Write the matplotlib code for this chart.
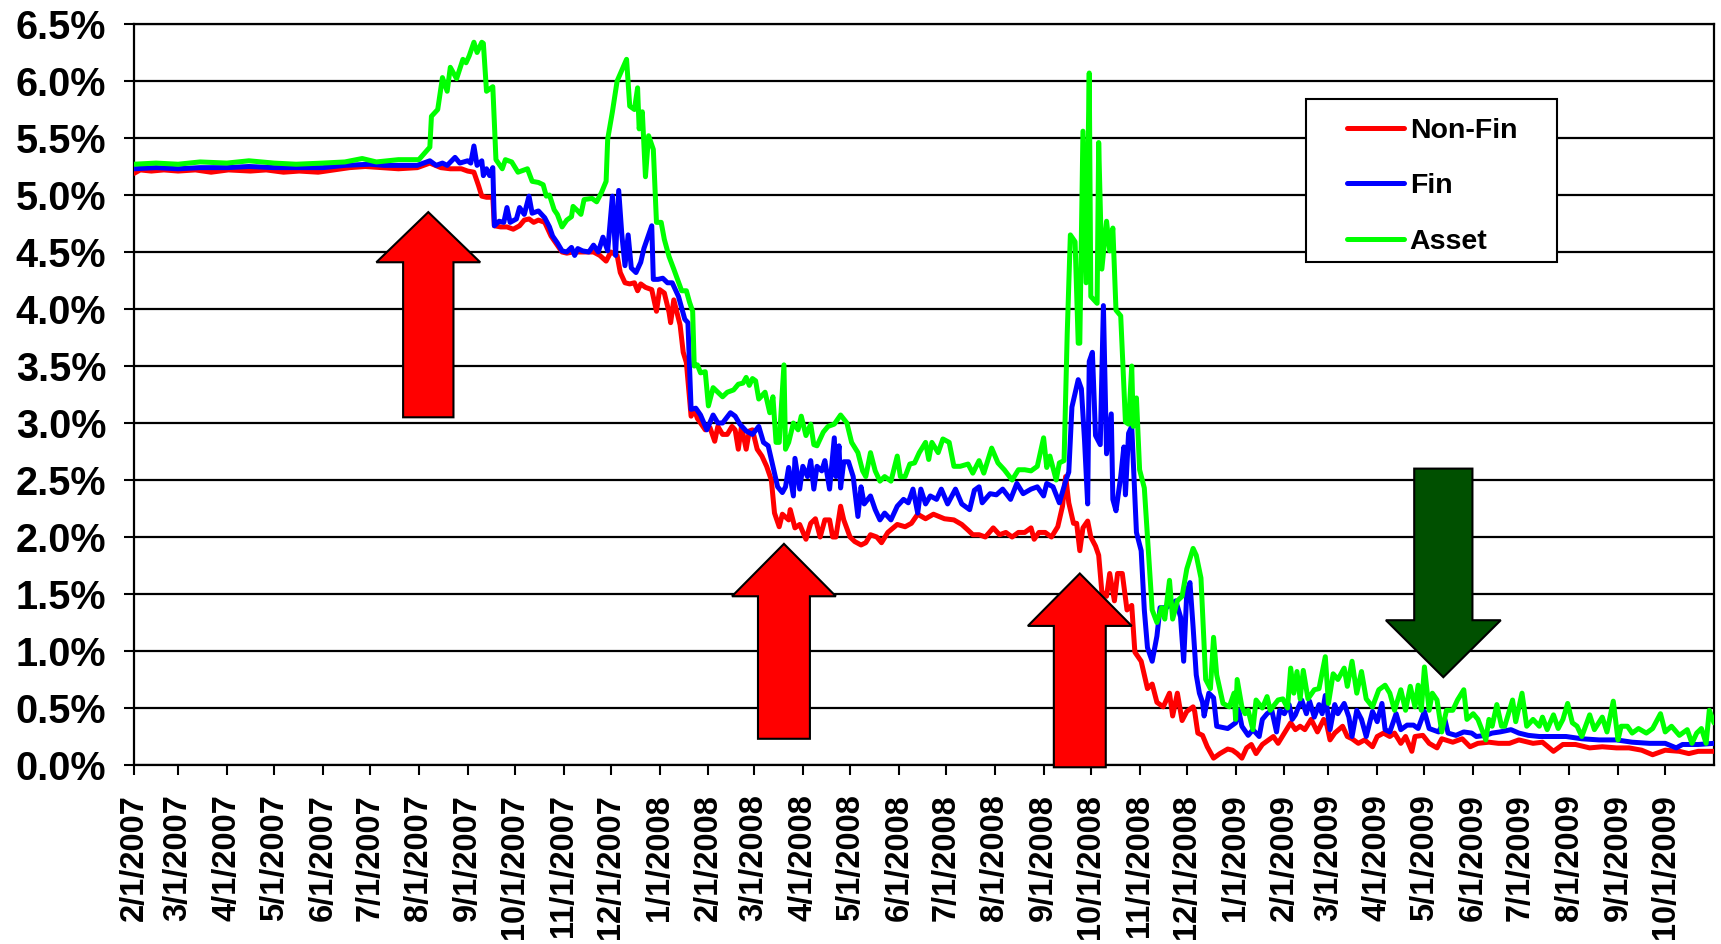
import matplotlib
matplotlib.use('Agg')
import matplotlib.pyplot as plt
import matplotlib.dates as mdates
from matplotlib.patches import Polygon, Rectangle
from matplotlib.ticker import FuncFormatter
import numpy as np
import pandas as pd

plt.rcParams['font.family'] = ['Liberation Sans', 'DejaVu Sans']
plt.rcParams['font.weight'] = 'bold'

W, H = 1721, 944

series_names = ['Non-Fin', 'Fin', 'Asset']
series_colors = ['#FF0000', '#0000FF', '#00FF00']

month_labels = ['2/1/2007', '3/1/2007', '4/1/2007', '5/1/2007', '6/1/2007', '7/1/2007',
                '8/1/2007', '9/1/2007', '10/1/2007', '11/1/2007', '12/1/2007', '1/1/2008',
                '2/1/2008', '3/1/2008', '4/1/2008', '5/1/2008', '6/1/2008', '7/1/2008',
                '8/1/2008', '9/1/2008', '10/1/2008', '11/1/2008', '12/1/2008', '1/1/2009',
                '2/1/2009', '3/1/2009', '4/1/2009', '5/1/2009', '6/1/2009', '7/1/2009',
                '8/1/2009', '9/1/2009', '10/1/2009']

# Non-Fin (percent)
nonfin_dates = [
    '2007-02-01', '2007-02-05', '2007-02-12', '2007-02-20', '2007-03-01', '2007-03-12', '2007-03-22',
    '2007-04-02', '2007-04-16', '2007-04-26', '2007-05-07', '2007-05-17', '2007-05-29', '2007-06-08',
    '2007-06-18', '2007-06-28', '2007-07-09', '2007-07-19', '2007-07-31', '2007-08-08', '2007-08-15',
    '2007-08-21', '2007-08-28', '2007-09-01', '2007-09-05', '2007-09-08', '2007-09-10', '2007-09-13',
    '2007-09-17', '2007-09-18', '2007-09-22', '2007-09-26', '2007-09-30', '2007-10-04', '2007-10-07',
    '2007-10-10', '2007-10-13', '2007-10-16', '2007-10-20', '2007-10-24', '2007-10-28', '2007-10-31',
    '2007-11-03', '2007-11-07', '2007-11-13', '2007-11-20', '2007-11-24', '2007-11-28', '2007-12-01',
    '2007-12-05', '2007-12-07', '2007-12-10', '2007-12-13', '2007-12-16', '2007-12-18', '2007-12-20',
    '2007-12-23', '2007-12-27', '2007-12-30', '2008-01-01', '2008-01-04', '2008-01-07', '2008-01-08',
    '2008-01-10', '2008-01-14', '2008-01-16', '2008-01-18', '2008-01-21', '2008-01-23', '2008-01-25',
    '2008-01-30', '2008-02-02', '2008-02-05', '2008-02-07', '2008-02-10', '2008-02-13', '2008-02-16',
    '2008-02-18', '2008-02-20', '2008-02-22', '2008-02-25', '2008-02-27', '2008-02-29', '2008-03-03',
    '2008-03-06', '2008-03-09', '2008-03-12', '2008-03-14', '2008-03-17', '2008-03-19', '2008-03-23',
    '2008-03-24', '2008-03-27', '2008-03-30', '2008-04-03', '2008-04-06', '2008-04-09', '2008-04-12',
    '2008-04-15', '2008-04-18', '2008-04-20', '2008-04-22', '2008-04-25', '2008-04-27', '2008-05-01',
    '2008-05-04', '2008-05-08', '2008-05-11', '2008-05-14', '2008-05-18', '2008-05-21', '2008-05-25',
    '2008-05-31', '2008-06-05', '2008-06-09', '2008-06-13', '2008-06-18', '2008-06-23', '2008-06-30',
    '2008-07-06', '2008-07-11', '2008-07-15', '2008-07-18', '2008-07-22', '2008-07-26', '2008-07-31',
    '2008-08-04', '2008-08-08', '2008-08-12', '2008-08-16', '2008-08-20', '2008-08-24', '2008-08-26',
    '2008-08-29', '2008-09-02', '2008-09-06', '2008-09-10', '2008-09-13', '2008-09-15', '2008-09-17',
    '2008-09-20', '2008-09-22', '2008-09-24', '2008-09-26', '2008-09-29', '2008-10-01', '2008-10-04',
    '2008-10-06', '2008-10-08', '2008-10-11', '2008-10-13', '2008-10-16', '2008-10-18', '2008-10-21',
    '2008-10-24', '2008-10-27', '2008-10-29', '2008-11-02', '2008-11-06', '2008-11-09', '2008-11-12',
    '2008-11-16', '2008-11-20', '2008-11-22', '2008-11-25', '2008-11-28', '2008-12-01', '2008-12-05',
    '2008-12-06', '2008-12-08', '2008-12-11', '2008-12-14', '2008-12-18', '2008-12-22', '2008-12-27',
    '2008-12-30', '2009-01-02', '2009-01-05', '2009-01-08', '2009-01-11', '2009-01-14', '2009-01-18',
    '2009-01-22', '2009-01-25', '2009-01-28', '2009-02-01', '2009-02-05', '2009-02-08', '2009-02-11',
    '2009-02-14', '2009-02-18', '2009-02-22', '2009-02-26', '2009-02-28', '2009-03-02', '2009-03-05',
    '2009-03-10', '2009-03-13', '2009-03-16', '2009-03-20', '2009-03-24', '2009-03-29', '2009-04-01',
    '2009-04-05', '2009-04-09', '2009-04-12', '2009-04-16', '2009-04-19', '2009-04-23', '2009-04-25',
    '2009-04-30', '2009-05-04', '2009-05-09', '2009-05-12', '2009-05-19', '2009-05-25', '2009-05-30',
    '2009-06-04', '2009-06-11', '2009-06-17', '2009-06-24', '2009-06-30', '2009-07-09', '2009-07-15',
    '2009-07-22', '2009-07-28', '2009-08-05', '2009-08-14', '2009-08-22', '2009-08-31', '2009-09-08',
    '2009-09-16', '2009-09-23', '2009-10-01', '2009-10-10', '2009-10-16', '2009-10-22', '2009-11-01']
nonfin_vals = [
    5.19, 5.22, 5.21, 5.22, 5.21, 5.22, 5.20,
    5.22, 5.21, 5.22, 5.20, 5.21, 5.20, 5.22,
    5.24, 5.25, 5.24, 5.23, 5.24, 5.28, 5.24,
    5.23, 5.23, 5.21, 5.20, 5.08, 4.99, 4.98,
    4.98, 4.73, 4.72, 4.72, 4.70, 4.73, 4.78,
    4.79, 4.76, 4.78, 4.76, 4.64, 4.56, 4.50,
    4.49, 4.50, 4.50, 4.50, 4.47, 4.42, 4.50,
    4.47, 4.32, 4.23, 4.22, 4.23, 4.16, 4.22,
    4.19, 4.17, 3.98, 4.17, 4.14, 3.97, 3.88,
    4.08, 3.86, 3.62, 3.53, 3.06, 3.12, 3.04,
    2.94, 2.96, 2.84, 2.97, 2.90, 2.90, 2.97,
    2.94, 2.77, 2.97, 2.77, 2.93, 2.94, 2.77,
    2.71, 2.62, 2.50, 2.21, 2.09, 2.20, 2.15,
    2.24, 2.08, 2.11, 1.98, 2.12, 2.16, 2.00,
    2.15, 2.15, 2.00, 2.00, 2.27, 2.15, 2.00,
    1.96, 1.93, 1.95, 2.02, 2.00, 1.95, 2.04,
    2.11, 2.09, 2.12, 2.20, 2.16, 2.20, 2.16,
    2.15, 2.11, 2.06, 2.02, 2.02, 2.00, 2.08,
    2.02, 2.04, 2.00, 2.04, 2.04, 2.08, 1.98,
    2.04, 2.04, 2.00, 2.09, 2.27, 2.53, 2.30,
    2.12, 2.12, 1.88, 2.08, 2.14, 2.00, 1.92,
    1.84, 1.52, 1.48, 1.68, 1.44, 1.68, 1.68,
    1.36, 1.40, 0.99, 0.91, 0.67, 0.71, 0.55,
    0.51, 0.63, 0.43, 0.63, 0.39, 0.47, 0.51,
    0.47, 0.28, 0.26, 0.16, 0.06, 0.10, 0.14,
    0.13, 0.10, 0.06, 0.15, 0.18, 0.10, 0.18,
    0.22, 0.25, 0.19, 0.28, 0.37, 0.31, 0.34,
    0.31, 0.40, 0.29, 0.40, 0.35, 0.22, 0.28,
    0.34, 0.25, 0.23, 0.19, 0.22, 0.16, 0.25,
    0.28, 0.25, 0.28, 0.19, 0.25, 0.12, 0.25,
    0.26, 0.19, 0.15, 0.23, 0.20, 0.23, 0.16,
    0.19, 0.20, 0.19, 0.19, 0.22, 0.19, 0.20,
    0.12, 0.18, 0.18, 0.15, 0.16, 0.15, 0.15,
    0.13, 0.09, 0.13, 0.12, 0.10, 0.12, 0.12]

# Fin (percent)
fin_dates = [
    '2007-02-01', '2007-02-15', '2007-03-01', '2007-03-15', '2007-04-01', '2007-04-15', '2007-05-01',
    '2007-05-15', '2007-06-01', '2007-06-15', '2007-07-01', '2007-07-10', '2007-07-19', '2007-07-31',
    '2007-08-08', '2007-08-12', '2007-08-16', '2007-08-19', '2007-08-24', '2007-08-27', '2007-09-01',
    '2007-09-03', '2007-09-05', '2007-09-07', '2007-09-10', '2007-09-11', '2007-09-13', '2007-09-15',
    '2007-09-17', '2007-09-18', '2007-09-21', '2007-09-24', '2007-09-26', '2007-09-28', '2007-10-02',
    '2007-10-04', '2007-10-07', '2007-10-10', '2007-10-12', '2007-10-16', '2007-10-20', '2007-10-23',
    '2007-10-25', '2007-10-28', '2007-10-31', '2007-11-03', '2007-11-06', '2007-11-08', '2007-11-10',
    '2007-11-13', '2007-11-17', '2007-11-20', '2007-11-23', '2007-11-26', '2007-11-29', '2007-12-02',
    '2007-12-04', '2007-12-06', '2007-12-08', '2007-12-10', '2007-12-12', '2007-12-14', '2007-12-17',
    '2007-12-20', '2007-12-22', '2007-12-27', '2007-12-28', '2007-12-31', '2008-01-03', '2008-01-06',
    '2008-01-09', '2008-01-13', '2008-01-17', '2008-01-19', '2008-01-21', '2008-01-24', '2008-01-27',
    '2008-01-31', '2008-02-04', '2008-02-07', '2008-02-10', '2008-02-15', '2008-02-18', '2008-02-21',
    '2008-02-25', '2008-02-29', '2008-03-04', '2008-03-07', '2008-03-10', '2008-03-13', '2008-03-16',
    '2008-03-19', '2008-03-21', '2008-03-23', '2008-03-26', '2008-03-27', '2008-03-30', '2008-04-01',
    '2008-04-04', '2008-04-06', '2008-04-08', '2008-04-10', '2008-04-13', '2008-04-15', '2008-04-18',
    '2008-04-21', '2008-04-22', '2008-04-24', '2008-04-25', '2008-04-27', '2008-04-30', '2008-05-03',
    '2008-05-06', '2008-05-08', '2008-05-10', '2008-05-14', '2008-05-17', '2008-05-20', '2008-05-23',
    '2008-05-27', '2008-05-31', '2008-06-04', '2008-06-07', '2008-06-10', '2008-06-13', '2008-06-15',
    '2008-06-18', '2008-06-21', '2008-06-25', '2008-06-28', '2008-07-02', '2008-07-07', '2008-07-11',
    '2008-07-16', '2008-07-19', '2008-07-22', '2008-07-24', '2008-07-29', '2008-08-02', '2008-08-06',
    '2008-08-11', '2008-08-15', '2008-08-19', '2008-08-24', '2008-08-28', '2008-09-01', '2008-09-03',
    '2008-09-07', '2008-09-11', '2008-09-15', '2008-09-17', '2008-09-19', '2008-09-23', '2008-09-25',
    '2008-09-27', '2008-09-29', '2008-09-30', '2008-10-02', '2008-10-04', '2008-10-07', '2008-10-09',
    '2008-10-11', '2008-10-14', '2008-10-15', '2008-10-17', '2008-10-20', '2008-10-22', '2008-10-23',
    '2008-10-25', '2008-10-27', '2008-10-30', '2008-11-02', '2008-11-04', '2008-11-06', '2008-11-09',
    '2008-11-12', '2008-11-14', '2008-11-18', '2008-11-24', '2008-11-27', '2008-11-29', '2008-12-01',
    '2008-12-03', '2008-12-05', '2008-12-07', '2008-12-09', '2008-12-11', '2008-12-12', '2008-12-15',
    '2008-12-18', '2008-12-20', '2008-12-27', '2009-01-01', '2009-01-03', '2009-01-05', '2009-01-09',
    '2009-01-12', '2009-01-16', '2009-01-18', '2009-01-21', '2009-01-24', '2009-01-27', '2009-01-29',
    '2009-02-01', '2009-02-04', '2009-02-06', '2009-02-08', '2009-02-10', '2009-02-12', '2009-02-15',
    '2009-02-17', '2009-02-20', '2009-02-23', '2009-02-25', '2009-02-27', '2009-03-02', '2009-03-05',
    '2009-03-07', '2009-03-11', '2009-03-14', '2009-03-16', '2009-03-19', '2009-03-22', '2009-03-25',
    '2009-03-29', '2009-04-01', '2009-04-04', '2009-04-06', '2009-04-09', '2009-04-13', '2009-04-16',
    '2009-04-20', '2009-04-24', '2009-04-27', '2009-05-01', '2009-05-04', '2009-05-10', '2009-05-14',
    '2009-05-16', '2009-05-21', '2009-05-26', '2009-05-31', '2009-06-03', '2009-06-09', '2009-06-13',
    '2009-06-18', '2009-06-25', '2009-06-30', '2009-07-06', '2009-07-13', '2009-07-22', '2009-07-30',
    '2009-08-09', '2009-08-20', '2009-08-31', '2009-09-10', '2009-09-21', '2009-10-01', '2009-10-08',
    '2009-10-12', '2009-10-22', '2009-11-01']
fin_vals = [
    5.23, 5.24, 5.23, 5.24, 5.24, 5.25, 5.24,
    5.24, 5.24, 5.26, 5.27, 5.26, 5.26, 5.26,
    5.30, 5.26, 5.28, 5.26, 5.33, 5.28, 5.30,
    5.28, 5.43, 5.26, 5.30, 5.17, 5.23, 5.17,
    5.24, 4.73, 4.77, 4.76, 4.89, 4.76, 4.79,
    4.89, 4.83, 4.99, 4.84, 4.86, 4.80, 4.72,
    4.64, 4.58, 4.51, 4.50, 4.54, 4.47, 4.53,
    4.51, 4.50, 4.56, 4.50, 4.63, 4.51, 4.99,
    4.47, 5.04, 4.65, 4.38, 4.65, 4.36, 4.32,
    4.41, 4.53, 4.73, 4.26, 4.26, 4.27, 4.23,
    4.23, 4.11, 3.91, 3.88, 3.12, 3.13, 3.07,
    2.94, 3.07, 3.00, 3.00, 3.09, 3.06, 2.99,
    2.93, 2.90, 2.97, 2.83, 2.80, 2.62, 2.44,
    2.39, 2.44, 2.61, 2.36, 2.69, 2.42, 2.62,
    2.53, 2.67, 2.42, 2.62, 2.58, 2.67, 2.42,
    2.87, 2.53, 2.80, 2.43, 2.66, 2.66, 2.53,
    2.18, 2.44, 2.29, 2.36, 2.24, 2.15, 2.21,
    2.15, 2.27, 2.33, 2.30, 2.42, 2.21, 2.42,
    2.29, 2.36, 2.33, 2.42, 2.29, 2.42, 2.29,
    2.24, 2.41, 2.44, 2.30, 2.38, 2.37, 2.42,
    2.33, 2.47, 2.38, 2.42, 2.44, 2.36, 2.47,
    2.44, 2.30, 2.49, 2.57, 3.14, 3.38, 3.30,
    2.85, 2.29, 3.54, 3.62, 2.89, 2.81, 4.03,
    2.73, 3.08, 2.33, 2.23, 2.53, 2.79, 2.37,
    2.91, 2.97, 2.04, 1.88, 1.36, 1.03, 0.91,
    1.13, 1.38, 1.38, 1.44, 1.30, 0.91, 1.52,
    1.60, 1.21, 0.79, 0.63, 0.55, 0.43, 0.63,
    0.59, 0.34, 0.32, 0.37, 0.48, 0.34, 0.26,
    0.31, 0.25, 0.40, 0.45, 0.48, 0.29, 0.48,
    0.45, 0.53, 0.40, 0.44, 0.51, 0.57, 0.45,
    0.56, 0.42, 0.53, 0.45, 0.61, 0.31, 0.53,
    0.45, 0.54, 0.42, 0.25, 0.48, 0.40, 0.25,
    0.47, 0.38, 0.54, 0.31, 0.29, 0.45, 0.31,
    0.35, 0.35, 0.32, 0.47, 0.32, 0.29, 0.40,
    0.28, 0.26, 0.29, 0.28, 0.25, 0.26, 0.28,
    0.29, 0.31, 0.28, 0.26, 0.25, 0.25, 0.25,
    0.23, 0.22, 0.22, 0.20, 0.19, 0.19, 0.15,
    0.18, 0.18, 0.19]

# Asset (percent)
asset_dates = [
    '2007-02-01', '2007-02-15', '2007-03-01', '2007-03-15', '2007-04-01', '2007-04-15', '2007-05-01',
    '2007-05-15', '2007-06-01', '2007-06-15', '2007-06-26', '2007-07-05', '2007-07-19', '2007-08-01',
    '2007-08-08', '2007-08-09', '2007-08-13', '2007-08-16', '2007-08-19', '2007-08-21', '2007-08-25',
    '2007-08-29', '2007-08-31', '2007-09-02', '2007-09-05', '2007-09-07', '2007-09-10', '2007-09-11',
    '2007-09-13', '2007-09-17', '2007-09-19', '2007-09-23', '2007-09-25', '2007-09-29', '2007-10-03',
    '2007-10-07', '2007-10-09', '2007-10-12', '2007-10-16', '2007-10-19', '2007-10-21', '2007-10-23',
    '2007-10-26', '2007-10-28', '2007-10-31', '2007-11-03', '2007-11-06', '2007-11-07', '2007-11-10',
    '2007-11-12', '2007-11-14', '2007-11-19', '2007-11-22', '2007-11-25', '2007-11-28', '2007-11-29',
    '2007-12-02', '2007-12-05', '2007-12-11', '2007-12-13', '2007-12-16', '2007-12-18', '2007-12-19',
    '2007-12-21', '2007-12-23', '2007-12-25', '2007-12-28', '2007-12-30', '2008-01-02', '2008-01-04',
    '2008-01-07', '2008-01-10', '2008-01-15', '2008-01-18', '2008-01-20', '2008-01-22', '2008-01-23',
    '2008-01-25', '2008-01-27', '2008-01-30', '2008-02-01', '2008-02-04', '2008-02-07', '2008-02-10',
    '2008-02-13', '2008-02-17', '2008-02-20', '2008-02-23', '2008-02-25', '2008-02-27', '2008-02-29',
    '2008-03-02', '2008-03-04', '2008-03-08', '2008-03-11', '2008-03-13', '2008-03-15', '2008-03-17',
    '2008-03-20', '2008-03-21', '2008-03-23', '2008-03-26', '2008-03-29', '2008-03-31', '2008-04-03',
    '2008-04-06', '2008-04-08', '2008-04-10', '2008-04-14', '2008-04-17', '2008-04-21', '2008-04-25',
    '2008-04-29', '2008-05-02', '2008-05-06', '2008-05-09', '2008-05-11', '2008-05-14', '2008-05-17',
    '2008-05-20', '2008-05-23', '2008-05-27', '2008-05-31', '2008-06-02', '2008-06-05', '2008-06-08',
    '2008-06-11', '2008-06-14', '2008-06-18', '2008-06-20', '2008-06-22', '2008-06-26', '2008-06-29',
    '2008-07-03', '2008-07-06', '2008-07-10', '2008-07-15', '2008-07-18', '2008-07-22', '2008-07-25',
    '2008-07-30', '2008-08-03', '2008-08-07', '2008-08-12', '2008-08-16', '2008-08-20', '2008-08-24',
    '2008-08-28', '2008-09-01', '2008-09-03', '2008-09-05', '2008-09-09', '2008-09-11', '2008-09-14',
    '2008-09-16', '2008-09-18', '2008-09-21', '2008-09-23', '2008-09-24', '2008-09-26', '2008-09-28',
    '2008-09-30', '2008-10-01', '2008-10-05', '2008-10-06', '2008-10-08', '2008-10-11', '2008-10-13',
    '2008-10-15', '2008-10-17', '2008-10-20', '2008-10-23', '2008-10-25', '2008-10-27', '2008-10-28',
    '2008-10-30', '2008-11-01', '2008-11-04', '2008-11-06', '2008-11-09', '2008-11-12', '2008-11-15',
    '2008-11-17', '2008-11-20', '2008-11-22', '2008-11-25', '2008-11-28', '2008-12-01', '2008-12-05',
    '2008-12-07', '2008-12-10', '2008-12-13', '2008-12-16', '2008-12-18', '2008-12-20', '2008-12-24',
    '2008-12-28', '2008-12-31', '2009-01-01', '2009-01-02', '2009-01-05', '2009-01-07', '2009-01-09',
    '2009-01-12', '2009-01-14', '2009-01-18', '2009-01-21', '2009-01-23', '2009-01-28', '2009-01-31',
    '2009-02-03', '2009-02-05', '2009-02-07', '2009-02-09', '2009-02-11', '2009-02-13', '2009-02-16',
    '2009-02-20', '2009-02-23', '2009-02-27', '2009-03-01', '2009-03-04', '2009-03-07', '2009-03-11',
    '2009-03-13', '2009-03-16', '2009-03-19', '2009-03-22', '2009-03-25', '2009-03-29', '2009-04-02',
    '2009-04-06', '2009-04-09', '2009-04-12', '2009-04-16', '2009-04-19', '2009-04-22', '2009-04-25',
    '2009-04-27', '2009-04-29', '2009-05-01', '2009-05-04', '2009-05-06', '2009-05-09', '2009-05-12',
    '2009-05-15', '2009-05-19', '2009-05-22', '2009-05-26', '2009-05-28', '2009-06-01', '2009-06-04',
    '2009-06-09', '2009-06-11', '2009-06-13', '2009-06-16', '2009-06-19', '2009-06-21', '2009-06-26',
    '2009-06-28', '2009-07-02', '2009-07-05', '2009-07-09', '2009-07-13', '2009-07-15', '2009-07-18',
    '2009-07-22', '2009-07-25', '2009-07-28', '2009-07-31', '2009-08-03', '2009-08-06', '2009-08-09',
    '2009-08-14', '2009-08-17', '2009-08-22', '2009-08-25', '2009-08-29', '2009-09-01', '2009-09-03',
    '2009-09-07', '2009-09-10', '2009-09-14', '2009-09-19', '2009-09-23', '2009-09-28', '2009-10-01',
    '2009-10-05', '2009-10-10', '2009-10-15', '2009-10-18', '2009-10-21', '2009-10-24', '2009-10-27',
    '2009-10-29', '2009-11-01']
asset_vals = [
    5.27, 5.28, 5.27, 5.29, 5.28, 5.30, 5.28,
    5.27, 5.28, 5.29, 5.32, 5.29, 5.31, 5.31,
    5.42, 5.69, 5.75, 6.03, 5.91, 6.12, 6.02,
    6.19, 6.16, 6.22, 6.34, 6.25, 6.34, 6.33,
    5.91, 5.95, 5.31, 5.23, 5.31, 5.29, 5.20,
    5.22, 5.23, 5.12, 5.11, 5.09, 4.99, 5.00,
    4.87, 4.83, 4.72, 4.78, 4.81, 4.90, 4.86,
    4.83, 4.96, 4.97, 4.94, 5.02, 5.12, 5.49,
    5.73, 6.00, 6.19, 5.78, 5.75, 5.94, 5.58,
    5.73, 5.16, 5.52, 5.40, 4.76, 4.76, 4.61,
    4.46, 4.35, 4.16, 4.16, 4.06, 3.98, 3.50,
    3.51, 3.44, 3.45, 3.15, 3.31, 3.27, 3.23,
    3.27, 3.29, 3.34, 3.35, 3.40, 3.33, 3.39,
    3.37, 3.21, 3.27, 3.09, 3.23, 2.83, 2.83,
    3.51, 2.77, 2.83, 3.00, 2.94, 3.06, 2.89,
    2.99, 2.81, 2.80, 2.92, 2.97, 2.99, 3.07,
    3.00, 2.83, 2.74, 2.58, 2.53, 2.74, 2.58,
    2.49, 2.53, 2.49, 2.71, 2.53, 2.53, 2.64,
    2.65, 2.74, 2.83, 2.68, 2.83, 2.74, 2.86,
    2.83, 2.62, 2.62, 2.64, 2.56, 2.67, 2.56,
    2.78, 2.65, 2.59, 2.50, 2.59, 2.59, 2.58,
    2.62, 2.87, 2.61, 2.71, 2.50, 2.65, 2.67,
    3.78, 4.65, 4.59, 3.70, 3.70, 5.56, 4.23,
    6.07, 4.11, 4.05, 5.46, 4.35, 4.77, 4.51,
    4.71, 3.99, 3.94, 3.01, 2.99, 3.50, 2.97,
    3.22, 2.59, 2.43, 2.00, 1.36, 1.25, 1.38,
    1.28, 1.62, 1.28, 1.44, 1.48, 1.72, 1.90,
    1.84, 1.64, 0.75, 0.67, 1.12, 0.79, 0.54,
    0.51, 0.63, 0.40, 0.75, 0.51, 0.45, 0.48,
    0.31, 0.57, 0.50, 0.60, 0.48, 0.57, 0.58,
    0.50, 0.85, 0.63, 0.82, 0.58, 0.83, 0.58,
    0.66, 0.67, 0.95, 0.54, 0.80, 0.75, 0.85,
    0.69, 0.91, 0.63, 0.82, 0.58, 0.51, 0.66,
    0.70, 0.63, 0.48, 0.66, 0.48, 0.69, 0.51,
    0.70, 0.48, 0.86, 0.48, 0.63, 0.57, 0.29,
    0.48, 0.48, 0.57, 0.66, 0.40, 0.45, 0.40,
    0.22, 0.40, 0.34, 0.53, 0.34, 0.34, 0.57,
    0.38, 0.63, 0.34, 0.40, 0.34, 0.42, 0.31,
    0.44, 0.32, 0.40, 0.54, 0.37, 0.34, 0.25,
    0.44, 0.31, 0.42, 0.29, 0.56, 0.22, 0.34,
    0.34, 0.28, 0.32, 0.28, 0.32, 0.45, 0.29,
    0.34, 0.26, 0.31, 0.19, 0.28, 0.32, 0.19,
    0.48, 0.37]

# block arrows: centre date, shaft width (days), head width (days), tail, head base, tip (percent)
arrows = [
    ('2007-08-07', 32, 66, 3.05, 4.41, 4.85, '#FF0000'),
    ('2008-03-20', 33, 66, 0.23, 1.48, 1.94, '#FF0000'),
    ('2008-09-24', 33, 66, -0.02, 1.22, 1.68, '#FF0000'),
    ('2009-05-13', 37, 73, 2.60, 1.27, 0.77, '#005000'),
]


def draw_arrow(ax, center, shaft_w, head_w, tail, base, tip, color):
    cx = mdates.date2num(pd.Timestamp(center))
    s, h = shaft_w / 2, head_w / 2
    pts = [(cx - s, tail), (cx - s, base), (cx - h, base), (cx, tip),
           (cx + h, base), (cx + s, base), (cx + s, tail)]
    ax.add_patch(Polygon(pts, closed=True, facecolor=color, edgecolor='black',
                         lw=1.5, zorder=5, clip_on=False))


fig = plt.figure(figsize=(W / 100, H / 100), dpi=100)
ax = fig.add_axes([134 / W, 179 / H, 1580 / W, 741 / H])

all_series = [(nonfin_dates, nonfin_vals), (fin_dates, fin_vals), (asset_dates, asset_vals)]
handles = []
for (dates, vals), name, col in zip(all_series, series_names, series_colors):
    ln, = ax.plot(pd.to_datetime(dates), vals, color=col, lw=3.6, label=name,
                  solid_joinstyle='round', solid_capstyle='round', zorder=3)
    handles.append(ln)

for a in arrows:
    draw_arrow(ax, *a)

ax.set_ylim(0, 6.5)
ax.set_yticks(np.arange(0, 6.51, 0.5))
ax.yaxis.set_major_formatter(FuncFormatter(lambda v, p: f'{v:.1f}%'))
ax.yaxis.grid(True, color='black', lw=1.6)
ax.set_axisbelow(True)

tick_pos = pd.to_datetime(month_labels, format='%m/%d/%Y')
ax.set_xlim(pd.Timestamp('2007-02-01'), pd.Timestamp('2009-11-01'))
ax.set_xticks(tick_pos)
ax.set_xticklabels(month_labels, rotation=90, fontsize=23.5, fontweight='bold')

ax.tick_params(axis='y', labelsize=28.5, pad=13, length=7, width=1.5, direction='out')
ax.tick_params(axis='x', pad=14, length=7, width=1.5, direction='out')
for t in ax.get_yticklabels():
    t.set_fontweight('bold')
for sp in ax.spines.values():
    sp.set_linewidth(1.6)
    sp.set_color('black')

# legend box
fig.patches.append(Rectangle((1306 / W, 1 - 262 / H), 251 / W, 163 / H, transform=fig.transFigure,
                             facecolor='white', edgecolor='black', lw=1.5, zorder=4))
fig.legend(handles, series_names, loc='upper left', bbox_to_anchor=(1347 / W, 1 - 118 / H),
           frameon=False, borderpad=0, borderaxespad=0, handlelength=2.0, handletextpad=0.2,
           labelspacing=1.03, prop={'weight': 'bold', 'size': 20.5})

fig.savefig('out.png', dpi=100)
